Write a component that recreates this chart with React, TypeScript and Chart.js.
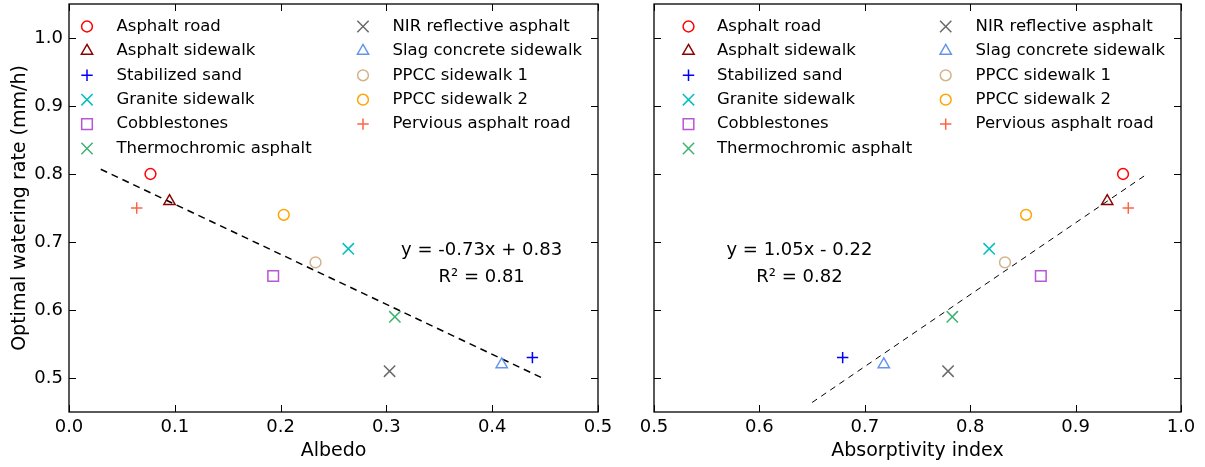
import React, { useEffect, useRef } from 'react';
import { Chart, registerables } from 'chart.js';

Chart.register(...registerables);

// ---------------- data ----------------
const materials = [
  'Asphalt road',
  'Asphalt sidewalk',
  'Stabilized sand',
  'Granite sidewalk',
  'Cobblestones',
  'Thermochromic asphalt',
  'NIR reflective asphalt',
  'Slag concrete sidewalk',
  'PPCC sidewalk 1',
  'PPCC sidewalk 2',
  'Pervious asphalt road',
];
const wateringRate = [0.80, 0.76, 0.53, 0.69, 0.65, 0.59, 0.51, 0.52, 0.67, 0.74, 0.75];
const albedo = [0.077, 0.095, 0.438, 0.264, 0.193, 0.308, 0.303, 0.409, 0.233, 0.203, 0.064];
const absorptivity = [0.945, 0.930, 0.679, 0.818, 0.867, 0.783, 0.779, 0.718, 0.833, 0.853, 0.950];

const markerStyles = ['circle', 'triangle', 'cross', 'crossRot', 'rect', 'crossRot', 'crossRot', 'triangle', 'circle', 'circle', 'cross'];
const markerColors = ['#ff0000', '#8b0000', '#0000ff', '#00bfbf', '#ba55d3', '#3cb371', '#696969', '#6495ed', '#d2b48c', '#ffa500', '#ff6347'];

const albedoTrendX = [0.03, 0.45];
const albedoTrendY = [0.807, 0.498];
const absorptivityTrendX = [0.65, 0.965];
const absorptivityTrendY = [0.464, 0.797];

const albedoEquation = ['y = -0.73x + 0.83', 'R² = 0.81'];
const absorptivityEquation = ['y = 1.05x - 0.22', 'R² = 0.82'];
const albedoEquationX = 0.39;
const absorptivityEquationX = 0.638;
const equationY = [0.688, 0.648];

const albedoTicks = [0.0, 0.1, 0.2, 0.3, 0.4, 0.5];
const absorptivityTicks = [0.5, 0.6, 0.7, 0.8, 0.9, 1.0];
const rateTicks = [0.5, 0.6, 0.7, 0.8, 0.9, 1.0];

// ---------------- styling ----------------
const FONT = '"DejaVu Sans", sans-serif';
const TICK_SIZE = 18;
const TITLE_SIZE = 19;
const LEGEND_SIZE = 16.5;
const EQ_SIZE = 18;
const markerRadius: Record<string, number> = {
  circle: 5.4,
  triangle: 6.5,
  cross: 5.7,
  crossRot: 8,
  rect: 7.5,
};

function drawMarker(ctx: CanvasRenderingContext2D, style: string, x: number, y: number, r: number, color: string) {
  ctx.save();
  ctx.strokeStyle = color;
  ctx.lineWidth = 1.5;
  ctx.beginPath();
  if (style === 'circle') {
    ctx.arc(x, y, r, 0, Math.PI * 2);
    ctx.closePath();
  } else if (style === 'triangle') {
    ctx.moveTo(x, y - r);
    ctx.lineTo(x + Math.sin((2 * Math.PI) / 3) * r, y - Math.cos((2 * Math.PI) / 3) * r);
    ctx.lineTo(x + Math.sin((4 * Math.PI) / 3) * r, y - Math.cos((4 * Math.PI) / 3) * r);
    ctx.closePath();
  } else if (style === 'rect') {
    const s = Math.SQRT1_2 * r;
    ctx.rect(x - s, y - s, 2 * s, 2 * s);
  } else if (style === 'cross') {
    ctx.moveTo(x - r, y);
    ctx.lineTo(x + r, y);
    ctx.moveTo(x, y - r);
    ctx.lineTo(x, y + r);
  } else if (style === 'crossRot') {
    const o = Math.SQRT1_2 * r;
    ctx.moveTo(x - o, y - o);
    ctx.lineTo(x + o, y + o);
    ctx.moveTo(x - o, y + o);
    ctx.lineTo(x + o, y - o);
  }
  ctx.stroke();
  ctx.restore();
}

type PanelCfg = {
  xValues: number[];
  xMin: number;
  xMax: number;
  xTicks: number[];
  xTitle: string;
  showY: boolean;
  yAxisWidth: number;
  padRight: number;
  trendX: number[];
  trendY: number[];
  trendWidth: number;
  trendDash: number[];
  equation: string[];
  equationX: number;
  legend: { m1: number; t1: number; m2: number; t2: number; row0: number; rowStep: number };
};

const framePlugin = (cfg: PanelCfg) => ({
  id: 'frameAndExtras',
  afterDraw(chart: any) {
    const ctx: CanvasRenderingContext2D = chart.ctx;
    const { left, right, top, bottom } = chart.chartArea;
    const xs = chart.scales.x;
    const ys = chart.scales.y;
    ctx.save();
    // frame
    ctx.strokeStyle = '#000';
    ctx.lineWidth = 1.3;
    ctx.strokeRect(left, top, right - left, bottom - top);
    // inward ticks
    ctx.lineWidth = 1;
    ctx.beginPath();
    const tl = 7;
    cfg.xTicks.forEach((v) => {
      const px = Math.round(xs.getPixelForValue(v)) + 0.5;
      ctx.moveTo(px, bottom);
      ctx.lineTo(px, bottom - tl);
      ctx.moveTo(px, top);
      ctx.lineTo(px, top + tl);
    });
    rateTicks.forEach((v) => {
      const py = Math.round(ys.getPixelForValue(v)) + 0.5;
      ctx.moveTo(left, py);
      ctx.lineTo(left + tl, py);
      ctx.moveTo(right, py);
      ctx.lineTo(right - tl, py);
    });
    ctx.stroke();

    // equation text
    ctx.fillStyle = '#000';
    ctx.font = `${EQ_SIZE}px ${FONT}`;
    ctx.textAlign = 'center';
    ctx.textBaseline = 'middle';
    cfg.equation.forEach((line, i) => {
      ctx.fillText(line, xs.getPixelForValue(cfg.equationX), ys.getPixelForValue(equationY[i]));
    });

    // legend
    const L = cfg.legend;
    ctx.font = `${LEGEND_SIZE}px ${FONT}`;
    ctx.textAlign = 'left';
    materials.forEach((name, i) => {
      const col = i < 6 ? 0 : 1;
      const row = i < 6 ? i : i - 6;
      const y = top + L.row0 + row * L.rowStep;
      const mx = left + (col === 0 ? L.m1 : L.m2);
      const tx = left + (col === 0 ? L.t1 : L.t2);
      drawMarker(ctx, markerStyles[i], mx, y, markerRadius[markerStyles[i]], markerColors[i]);
      ctx.fillStyle = '#000';
      ctx.fillText(name, tx, y);
    });
    ctx.restore();
  },
});

function makeChart(canvas: HTMLCanvasElement, cfg: PanelCfg) {
  const tickFont = { family: FONT, size: TICK_SIZE };
  const titleFont = { family: FONT, size: TITLE_SIZE };
  const pointSets = materials.map((name, i) => ({
    label: name,
    data: [{ x: cfg.xValues[i], y: wateringRate[i] }],
    pointStyle: markerStyles[i],
    pointRadius: markerRadius[markerStyles[i]],
    pointBorderWidth: 1.5,
    borderColor: markerColors[i],
    backgroundColor: 'rgba(0,0,0,0)',
    order: 0,
  }));
  const trend = {
    label: 'trend',
    type: 'line',
    data: cfg.trendX.map((x, i) => ({ x, y: cfg.trendY[i] })),
    borderColor: '#000',
    borderWidth: cfg.trendWidth,
    borderDash: cfg.trendDash,
    pointRadius: 0,
    fill: false,
    showLine: true,
    order: 1,
  };
  return new Chart(canvas, {
    type: 'scatter',
    data: { datasets: [...pointSets, trend] as any },
    options: {
      responsive: false,
      animation: false,
      devicePixelRatio: 1,
      layout: { autoPadding: false, padding: { left: 0, right: cfg.padRight, top: 4, bottom: 0 } },
      plugins: { legend: { display: false }, tooltip: { enabled: false } },
      scales: {
        x: {
          type: 'linear',
          min: cfg.xMin,
          max: cfg.xMax,
          grid: { display: false, drawTicks: false },
          border: { display: false },
          ticks: {
            color: '#000',
            font: tickFont,
            padding: 5,
            autoSkip: false,
            maxRotation: 0,
            callback: (v: any) => Number(v).toFixed(1),
          },
          afterBuildTicks: (s: any) => {
            s.ticks = cfg.xTicks.map((v) => ({ value: v }));
          },
          afterFit: (s: any) => {
            s.height = 55;
            s.paddingLeft = 0;
            s.paddingRight = 0;
          },
          title: { display: true, text: cfg.xTitle, color: '#000', font: titleFont, padding: { top: 0, bottom: 4.5 } },
        },
        y: {
          type: 'linear',
          min: 0.45,
          max: 1.05,
          grid: { display: false, drawTicks: false },
          border: { display: false },
          ticks: {
            display: cfg.showY,
            color: '#000',
            font: tickFont,
            padding: 6,
            autoSkip: false,
            callback: (v: any) => Number(v).toFixed(1),
          },
          afterBuildTicks: (s: any) => {
            s.ticks = rateTicks.map((v) => ({ value: v }));
          },
          afterFit: (s: any) => {
            s.width = cfg.yAxisWidth;
            s.paddingTop = 0;
            s.paddingBottom = 0;
          },
          title: {
            display: cfg.showY,
            text: 'Optimal watering rate (mm/h)',
            color: '#000',
            font: titleFont,
            padding: { top: 9, bottom: 0 },
          },
        },
      },
    },
    plugins: [framePlugin(cfg)],
  } as any);
}

const leftCfg: PanelCfg = {
  xValues: albedo,
  xMin: 0,
  xMax: 0.5,
  xTicks: albedoTicks,
  xTitle: 'Albedo',
  showY: true,
  yAxisWidth: 69,
  padRight: 28,
  trendX: albedoTrendX,
  trendY: albedoTrendY,
  trendWidth: 1.5,
  trendDash: [7, 5],
  equation: albedoEquation,
  equationX: albedoEquationX,
  legend: { m1: 18, t1: 47.5, m2: 294, t2: 323.5, row0: 22.5, rowStep: 24.4 },
};

const rightCfg: PanelCfg = {
  xValues: absorptivity,
  xMin: 0.5,
  xMax: 1.0,
  xTicks: absorptivityTicks,
  xTitle: 'Absorptivity index',
  showY: false,
  yAxisWidth: 28,
  padRight: 24,
  trendX: absorptivityTrendX,
  trendY: absorptivityTrendY,
  trendWidth: 1,
  trendDash: [6, 5],
  equation: absorptivityEquation,
  equationX: absorptivityEquationX,
  legend: { m1: 34.5, t1: 63, m2: 291.7, t2: 321.6, row0: 22.5, rowStep: 24.4 },
};

export default function App() {
  const leftRef = useRef<HTMLCanvasElement>(null);
  const rightRef = useRef<HTMLCanvasElement>(null);

  useEffect(() => {
    const a = makeChart(leftRef.current!, leftCfg);
    const b = makeChart(rightRef.current!, rightCfg);
    return () => {
      a.destroy();
      b.destroy();
    };
  }, []);

  return (
    <div style={{ position: 'absolute', left: 0, top: 0, width: 1205, height: 467, background: '#fff' }}>
      <canvas
        ref={leftRef}
        width={626}
        height={467}
        style={{ position: 'absolute', left: 0, top: 0, width: 626, height: 467 }}
      />
      <canvas
        ref={rightRef}
        width={579}
        height={467}
        style={{ position: 'absolute', left: 626, top: 0, width: 579, height: 467 }}
      />
    </div>
  );
}
